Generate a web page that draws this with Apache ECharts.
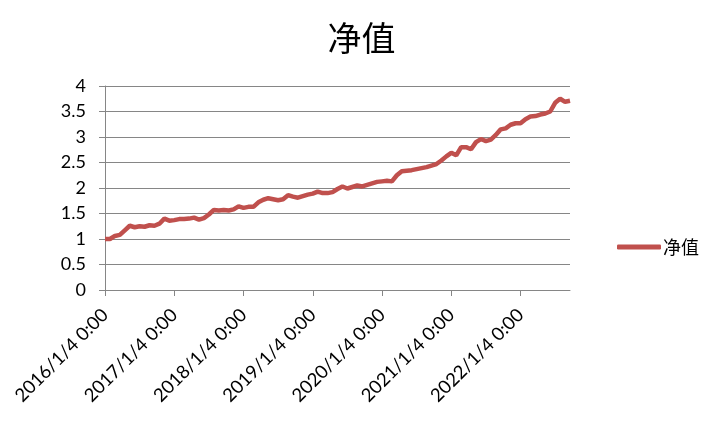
<!DOCTYPE html>
<html>
<head>
<meta charset="utf-8">
<script src="https://cdn.jsdelivr.net/npm/echarts@6/dist/echarts.min.js"></script>
<style>
html,body{margin:0;padding:0;background:#fff;}
#c{width:723px;height:434px;}
</style>
</head>
<body>
<div id="c"></div>
<script>
// Tick labels shown on the category axis (one per year)
const tickLabels = ['2016/1/4 0:00','2017/1/4 0:00','2018/1/4 0:00','2019/1/4 0:00','2020/1/4 0:00','2021/1/4 0:00','2022/1/4 0:00'];
const pointsPerYear = 14;
// Net value series, sampled evenly along the axis (14 samples per year)
const navValues = [
  1.00,1.00,1.06,1.08,1.17,1.26,1.23,1.25,1.24,1.27,1.26,1.30,1.40,1.36,
  1.37,1.39,1.39,1.40,1.42,1.38,1.41,1.48,1.57,1.56,1.57,1.56,1.58,1.64,
  1.61,1.63,1.63,1.72,1.77,1.80,1.78,1.76,1.78,1.86,1.83,1.81,1.84,1.87,
  1.89,1.93,1.90,1.90,1.92,1.98,2.03,1.99,2.02,2.05,2.03,2.06,2.09,2.12,
  2.13,2.14,2.13,2.25,2.33,2.34,2.35,2.37,2.39,2.41,2.44,2.47,2.54,2.62,
  2.69,2.64,2.80,2.80,2.76,2.90,2.96,2.92,2.95,3.04,3.15,3.17,3.24,3.27,
  3.27,3.35,3.40,3.41,3.44,3.46,3.50,3.67,3.75,3.69,3.71
];
const seriesName = '净值';

// category labels: the yearly tick label at each year start, sample dates between
const categories = navValues.map((v, i) => {
  const k = Math.floor(i / pointsPerYear), j = i % pointsPerYear;
  if (j === 0 && k < tickLabels.length) return tickLabels[k];
  const d = new Date(2016 + k, 0, 4 + Math.round(j * 365 / pointsPerYear));
  return d.getFullYear() + '/' + (d.getMonth() + 1) + '/' + d.getDate() + ' 0:00';
});

const font = 'Lato, "Noto Sans", "Noto Sans CJK SC", sans-serif';
const chart = echarts.init(document.getElementById('c'), null, {renderer: 'canvas'});
chart.setOption({
  animation: false,
  backgroundColor: '#fff',
  title: {
    text: '净值',
    left: 'center',
    top: 16,
    textStyle: {fontFamily: '"Noto Sans CJK SC", sans-serif', fontSize: 34, fontWeight: 'normal', color: '#000'}
  },
  legend: {
    data: [seriesName],
    left: 612,
    top: 233,
    icon: 'roundRect',
    itemWidth: 44,
    itemHeight: 5,
    itemGap: 0,
    textStyle: {fontFamily: '"Noto Sans CJK SC", sans-serif', fontSize: 18, color: '#000', padding: [0,0,0,-3]}
  },
  grid: {left: 105, right: 153, top: 86, bottom: 144, containLabel: false},
  xAxis: {
    type: 'category',
    data: categories,
    boundaryGap: false,
    axisLine: {lineStyle: {color: '#868686', width: 1}},
    axisTick: {show: true, interval: pointsPerYear - 1, length: 6, lineStyle: {color: '#868686'}},
    axisLabel: {
      interval: pointsPerYear - 1,
      rotate: 45,
      margin: 22,
      fontFamily: font,
      fontSize: 18.5,
      color: '#000'
    },
    splitLine: {show: false}
  },
  yAxis: {
    type: 'value',
    min: 0,
    max: 4,
    interval: 0.5,
    axisLine: {show: true, lineStyle: {color: '#868686', width: 1}},
    axisTick: {show: true, length: 6, lineStyle: {color: '#868686'}},
    axisLabel: {fontFamily: font, fontSize: 18, color: '#000', margin: 19},
    splitLine: {lineStyle: {color: '#868686', width: 1}}
  },
  series: [{
    name: seriesName,
    type: 'line',
    data: navValues,
    showSymbol: false,
    symbol: 'none',
    lineStyle: {color: '#C0504D', width: 4.5},
    itemStyle: {color: '#C0504D'}
  }]
});
</script>
</body>
</html>
